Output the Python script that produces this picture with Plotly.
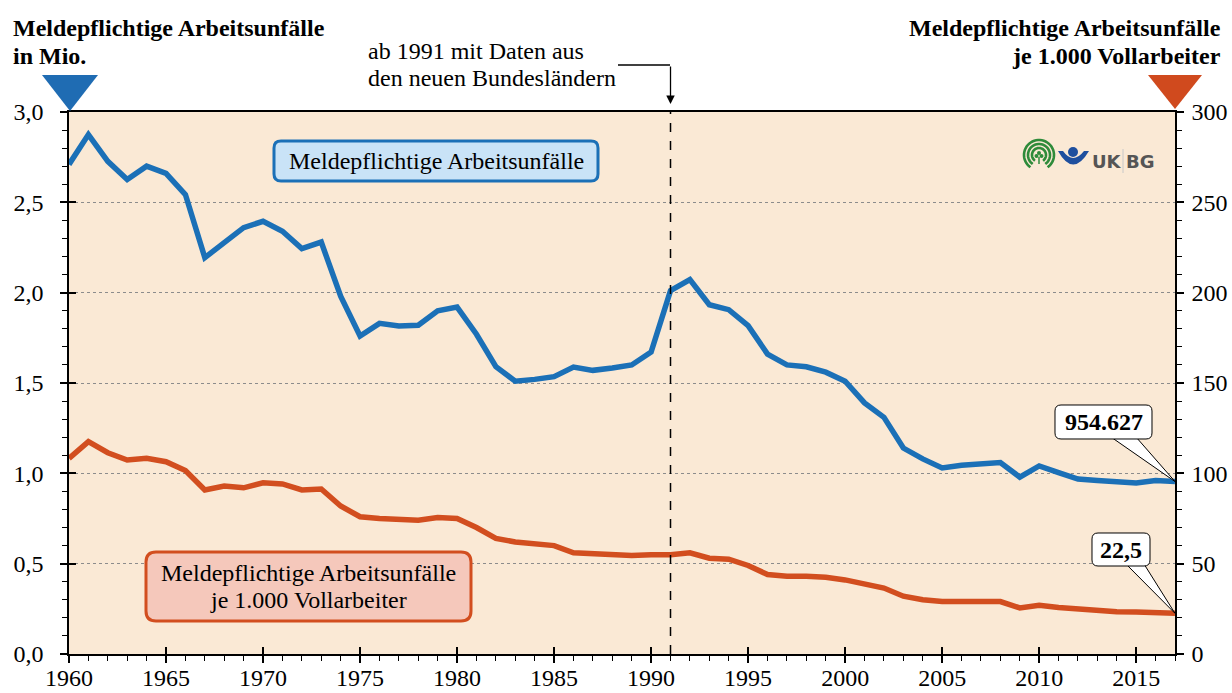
import numpy as np
import plotly.graph_objects as go

# ---------------- data ----------------
years = list(range(1960, 2018))
unfaelle_mio = [2.71, 2.875, 2.727, 2.626, 2.70, 2.66, 2.543, 2.194, 2.277, 2.36,
                2.395, 2.34, 2.244, 2.28, 1.98, 1.76, 1.83, 1.815, 1.82, 1.90,
                1.92, 1.77, 1.59, 1.51, 1.52, 1.535, 1.588, 1.57, 1.583, 1.60,
                1.671, 2.011, 2.072, 1.933, 1.906, 1.817, 1.66, 1.60, 1.59, 1.56,
                1.51, 1.39, 1.31, 1.14, 1.08, 1.03, 1.045, 1.05, 1.06, 0.979,
                1.041, 1.004, 0.968, 0.96, 0.955, 0.946, 0.96, 0.954627]
je_1000 = [108.3, 117.5, 111.4, 107.4, 108.3, 106.4, 101.5, 90.8, 93.0, 92.0,
           94.8, 94.1, 90.8, 91.3, 81.9, 76.0, 75.0, 74.5, 74.0, 75.5,
           75.0, 70.0, 64.0, 62.0, 61.0, 60.0, 56.0, 55.5, 55.0, 54.5,
           55.0, 55.0, 56.0, 53.0, 52.5, 49.0, 44.0, 43.0, 43.0, 42.5,
           41.0, 38.5, 36.5, 32.0, 30.0, 29.0, 29.0, 28.5, 29.0, 25.5,
           27.0, 25.8, 24.8, 23.8, 23.4, 23.2, 23.0, 22.5]
wende_jahr = 1991
y_range = [0, 3.0]
y2_range = [0, 300]

# ---------------- geometry helpers (pixel -> paper) ----------------
W, H = 1232, 693
L, R, T, B = 69, 1175, 112, 654


def px(x):
    return (x - L) / (R - L)


def py(y):
    return (B - y) / (B - T)


def rrect(x0, y0, x1, y1, r):
    pts = [
        ("M", (x0 + r, y0)), ("L", (x1 - r, y0)), ("Q", (x1, y0), (x1, y0 + r)),
        ("L", (x1, y1 - r)), ("Q", (x1, y1), (x1 - r, y1)), ("L", (x0 + r, y1)),
        ("Q", (x0, y1), (x0, y1 - r)), ("L", (x0, y0 + r)), ("Q", (x0, y0), (x0 + r, y0)),
    ]
    s = ""
    for p in pts:
        s += p[0] + " " + " ".join(f"{px(a):.5f},{py(b):.5f}" for a, b in p[1:]) + " "
    return s + "Z"


SERIF = "Liberation Serif"
BLUE = "#1B70B7"
ORANGE = "#D24E1F"
BG = "#FAE9D5"
FS = 24

fig = go.Figure()
fig.add_trace(go.Scatter(x=years, y=unfaelle_mio, mode="lines",
                         line=dict(color=BLUE, width=5.5), yaxis="y", showlegend=False,
                         hoverinfo="skip"))
fig.add_trace(go.Scatter(x=years, y=je_1000, mode="lines",
                         line=dict(color=ORANGE, width=5.5), yaxis="y2", showlegend=False,
                         hoverinfo="skip"))
# empty trace so the overlay axes (inner halves of the major ticks) are drawn
fig.add_trace(go.Scatter(x=[None], y=[None], xaxis="x2", yaxis="y3", showlegend=False,
                         hoverinfo="skip"))

tickfont = dict(family=SERIF, size=FS, color="black")
fig.update_layout(
    width=W, height=H, autosize=False,
    margin=dict(l=L, r=W - R, t=T, b=H - B),
    paper_bgcolor="white", plot_bgcolor=BG,
    separators=",.",
    showlegend=False,
    xaxis=dict(range=[years[0], years[-1]], tick0=1960, dtick=5, ticks="outside",
               ticklen=7, tickwidth=1.5, tickcolor="black", showline=True,
               linecolor="black", linewidth=1.5, mirror=True, showgrid=False,
               zeroline=False, tickfont=tickfont, ticklabelstandoff=-6, automargin=False,
               minor=dict(dtick=1, ticks="outside", ticklen=5, tickwidth=1, tickcolor="black")),
    xaxis2=dict(range=[years[0], years[-1]], overlaying="x", anchor="y", side="bottom",
                tick0=1960, dtick=5, ticks="inside", ticklen=7, tickwidth=1.5,
                tickcolor="black", showticklabels=False, showgrid=False, zeroline=False,
                showline=False, automargin=False),
    yaxis=dict(range=y_range, dtick=0.5, tickformat=".1f", ticks="outside", ticklen=7,
               tickwidth=1.5, tickcolor="black", showline=True, linecolor="black",
               linewidth=1.5, showgrid=True, gridcolor="#8c8c8c", griddash="dot",
               gridwidth=1, zeroline=False, tickfont=tickfont, ticklabelstandoff=12,
               automargin=False,
               minor=dict(dtick=0.1, ticks="outside", ticklen=5, tickwidth=1,
                          tickcolor="black", showgrid=False)),
    yaxis2=dict(range=y2_range, dtick=50, overlaying="y", side="right", anchor="x",
                ticks="outside", ticklen=7, tickwidth=1.5, tickcolor="black",
                showline=True, linecolor="black", linewidth=1.5, showgrid=False,
                zeroline=False, tickfont=tickfont, ticklabelstandoff=3, automargin=False,
                minor=dict(dtick=10, ticks="outside", ticklen=5, tickwidth=1,
                           tickcolor="black", showgrid=False)),
    yaxis3=dict(range=y_range, dtick=0.5, overlaying="y", side="left", anchor="x2",
                ticks="inside", ticklen=7, tickwidth=1.5, tickcolor="black",
                showticklabels=False, showgrid=False, zeroline=False, showline=False,
                automargin=False),
)

shapes = []
annotations = []


def label(x, y, text, size=FS, xanchor="center", bold=False, family=SERIF, color="black"):
    if bold:
        text = f"<b>{text}</b>"
    annotations.append(dict(xref="paper", yref="paper", x=px(x), y=py(y), xanchor=xanchor,
                            yanchor="middle", showarrow=False, text=text,
                            font=dict(family=family, size=size, color=color)))


# vertical dashed line at 1991
shapes.append(dict(type="line", xref="x", yref="paper", x0=wende_jahr, x1=wende_jahr,
                   y0=0, y1=1, line=dict(color="black", width=1.5, dash="dash")))

# triangles
shapes.append(dict(type="path", xref="paper", yref="paper",
                   path=f"M {px(42)},{py(75)} L {px(98)},{py(75)} L {px(70)},{py(111)} Z",
                   fillcolor="#1F6CB3", line=dict(width=0)))
shapes.append(dict(type="path", xref="paper", yref="paper",
                   path=f"M {px(1148)},{py(75)} L {px(1202)},{py(75)} L {px(1175)},{py(109)} Z",
                   fillcolor="#D04A1E", line=dict(width=0)))

# titles
label(11, 28, "Meldepflichtige Arbeitsunfälle", xanchor="left", bold=True)
label(11, 56, "in Mio.", xanchor="left", bold=True)
label(1223, 28, "Meldepflichtige Arbeitsunfälle", xanchor="right", bold=True)
label(1223, 56, "je 1.000 Vollarbeiter", xanchor="right", bold=True)

# 1991 annotation + arrow
label(366, 51, "ab 1991 mit Daten aus", xanchor="left")
label(366, 78, "den neuen Bundesländern", xanchor="left")
shapes.append(dict(type="line", xref="paper", yref="paper", x0=px(618), x1=px(670),
                   y0=py(65), y1=py(65), line=dict(color="black", width=1.3)))
annotations.append(dict(xref="x", yref="paper", x=wende_jahr, y=py(104), ax=0, ay=-39,
                        axref="pixel", ayref="pixel", text="", showarrow=True,
                        arrowhead=2, arrowsize=1.3, arrowwidth=1.3, arrowcolor="black"))

# series label boxes
shapes.append(dict(type="path", xref="paper", yref="paper", path=rrect(274, 141, 598, 181, 7),
                   fillcolor="#C9E3F7", line=dict(color=BLUE, width=3)))
label(436, 161, "Meldepflichtige Arbeitsunfälle")
shapes.append(dict(type="path", xref="paper", yref="paper", path=rrect(146, 552, 471, 621, 10),
                   fillcolor="#F5C8BB", line=dict(color=ORANGE, width=3)))
label(308, 573, "Meldepflichtige Arbeitsunfälle")
label(308, 600, "je 1.000 Vollarbeiter")

# callouts for last values
blue_last = unfaelle_mio[-1]
orange_last = je_1000[-1]
blue_txt = f"{round(blue_last * 1e6):,}".replace(",", ".")
orange_txt = f"{orange_last:.1f}".replace(".", ",")
tip_x = 1.0
tip_blue = (blue_last - y_range[0]) / (y_range[1] - y_range[0])
tip_orange = (orange_last - y2_range[0]) / (y2_range[1] - y2_range[0])

shapes.append(dict(type="path", xref="paper", yref="paper",
                   path=f"M {px(1111)},{py(437)} L {tip_x},{tip_blue} L {px(1136)},{py(437)} Z",
                   fillcolor="white", line=dict(color="black", width=1)))
shapes.append(dict(type="path", xref="paper", yref="paper", path=rrect(1055, 405, 1152, 439, 6),
                   fillcolor="white", line=dict(color="black", width=1)))
label(1103.5, 422, blue_txt, bold=True)

shapes.append(dict(type="path", xref="paper", yref="paper",
                   path=f"M {px(1126)},{py(564)} L {tip_x},{tip_orange} L {px(1144)},{py(564)} Z",
                   fillcolor="white", line=dict(color="black", width=1)))
shapes.append(dict(type="path", xref="paper", yref="paper", path=rrect(1092, 533, 1150, 566, 6),
                   fillcolor="white", line=dict(color="black", width=1)))
label(1121, 549.5, orange_txt, bold=True)

# logo (UK | BG)
GREEN = "#2E8B3A"
cx, cy = 1039, 155
for r in (15, 11, 7):
    ang = np.radians(np.linspace(-55, 235, 40))
    xs = cx + r * np.cos(ang)
    ys = cy - r * np.sin(ang)
    path = "M " + " L ".join(f"{px(a):.5f},{py(b):.5f}" for a, b in zip(xs, ys))
    shapes.append(dict(type="path", xref="paper", yref="paper", path=path,
                       line=dict(color=GREEN, width=2.6)))
for dx, dy in ((-2.5, 1), (2.5, 1), (0, -2)):
    shapes.append(dict(type="circle", xref="paper", yref="paper",
                       x0=px(cx + dx - 2), x1=px(cx + dx + 2), y0=py(cy + dy + 2), y1=py(cy + dy - 2),
                       fillcolor=GREEN, line=dict(width=0)))
shapes.append(dict(type="line", xref="paper", yref="paper", x0=px(cx), x1=px(cx),
                   y0=py(cy + 2), y1=py(cy + 9), line=dict(color=GREEN, width=1.5)))
DBLUE = "#1E4F9E"
shapes.append(dict(type="circle", xref="paper", yref="paper",
                   x0=px(1068), x1=px(1078), y0=py(157), y1=py(147),
                   fillcolor=DBLUE, line=dict(width=0)))
shapes.append(dict(type="path", xref="paper", yref="paper",
                   path=(f"M {px(1058)},{py(151)} Q {px(1073)},{py(178)} {px(1089)},{py(151)} "
                         f"L {px(1084)},{py(151)} Q {px(1073)},{py(165)} {px(1063)},{py(151)} Z"),
                   fillcolor=DBLUE, line=dict(width=0)))
label(1107, 161, "UK", size=18, bold=True, family="DejaVu Sans", color="#555555")
label(1140, 161, "BG", size=18, bold=True, family="DejaVu Sans", color="#555555")
shapes.append(dict(type="line", xref="paper", yref="paper", x0=px(1123), x1=px(1123),
                   y0=py(149), y1=py(173), line=dict(color="#C8C8C8", width=1)))

fig.update_layout(shapes=shapes, annotations=annotations)
fig.write_html("out.html", config={"displayModeBar": False},
               post_script="document.body.style.margin='0';")
